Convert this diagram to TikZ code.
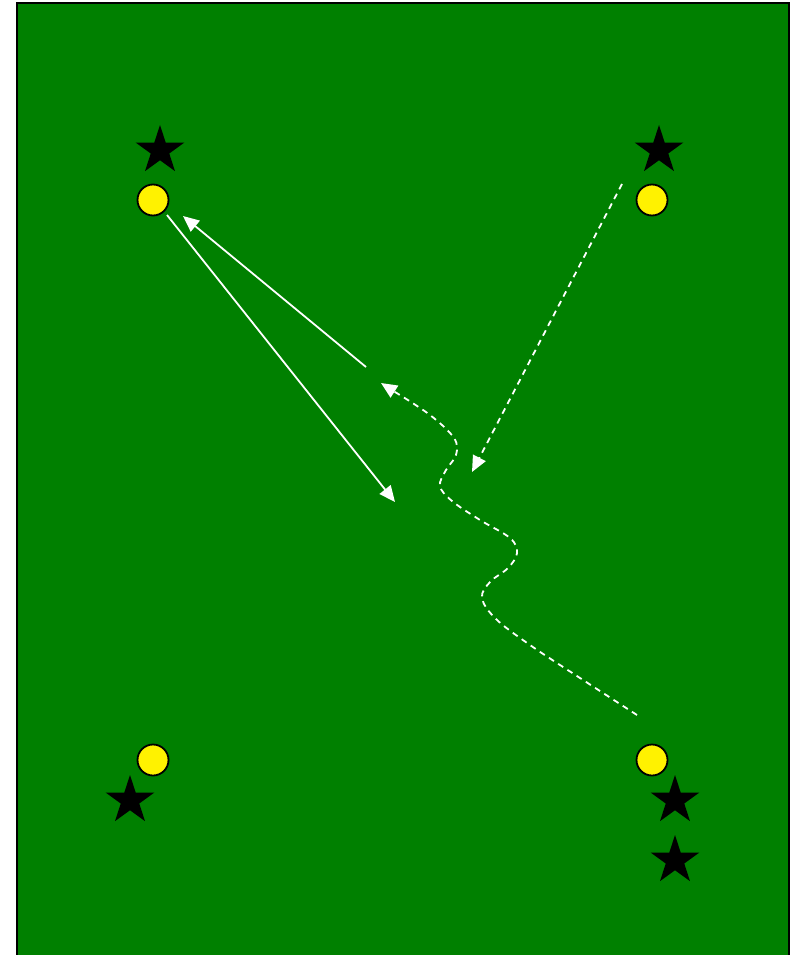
\documentclass[tikz,border=0pt]{standalone}
\usetikzlibrary{shapes.geometric,arrows.meta}
\definecolor{pitch}{RGB}{0,128,0}
\tikzset{
  player/.style={circle,draw=black,line width=1.8pt,fill=yellow,minimum size=31pt,inner sep=0pt},
  cone/.style={star,star points=5,star point ratio=2.618,fill=black,minimum size=51pt,inner sep=0pt},
  run/.style={white,line width=1.8pt,-{Triangle[length=16pt,width=14pt]}},
  runD/.style={run,dash pattern=on 6pt off 5pt},
}
\begin{document}
\begin{tikzpicture}[x=1pt,y=-1pt]
\useasboundingbox (0,0) rectangle (791,955);
\clip (0,0) rectangle (791,955);
\draw[fill=pitch,line width=2pt] (17,3) rectangle (789,965);
% stars
\node[cone] (s1) at (160,150.5) {};
\node[cone] (s2) at (659,150.5) {};
\node[cone] (s3) at (130,800.5) {};
\node[cone] (s4) at (675,800.5) {};
\node[cone] (s5) at (675,860.5) {};
% players
\node[player] (p1) at (153,200) {};
\node[player] (p2) at (652,200) {};
\node[player] (p3) at (153,760) {};
\node[player] (p4) at (652,760) {};
% arrow end points
\coordinate (a1s) at (167,215);
\coordinate (a1e) at (395,502);
\coordinate (a2s) at (366,367);
\coordinate (a2e) at (183,216);
\coordinate (a3s) at (622,184);
\coordinate (a3e) at (472,472);
\coordinate (a4s) at (637,715);
\coordinate (a4e) at (381,383);
\draw[run] (a1s) -- (a1e);
\draw[run] (a2s) -- (a2e);
\draw[runD] (a3s) -- (a3e);
\draw[runD] plot[smooth,tension=0.6] coordinates {(637,715) (580,678) (530,645) (496,619) (482,598) (490,582) (508,568) (517,553) (510,538) (480,520) (452,501) (440,486) (446,470) (456,455) (454,438) (430,415) (395,392)} -- (a4e);
\end{tikzpicture}
\end{document}
